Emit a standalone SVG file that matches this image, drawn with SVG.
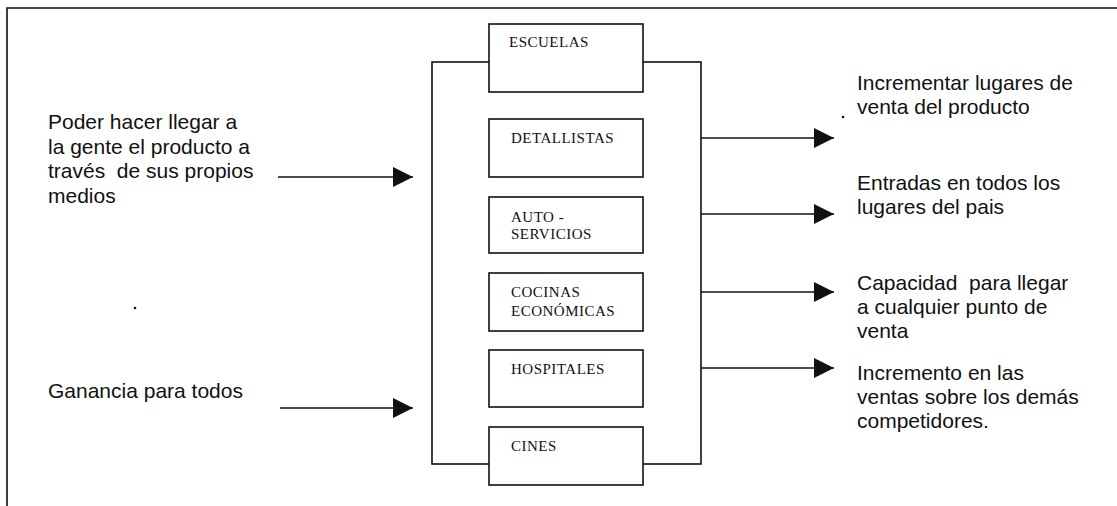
<svg xmlns="http://www.w3.org/2000/svg" width="1117" height="506" viewBox="0 0 1117 506">
<style>
.ln{stroke:#111;stroke-width:1.6;fill:none}
.bx{stroke:#111;stroke-width:1.6;fill:#fff}
.bt{font-family:"Liberation Serif","Times New Roman",serif;font-size:15px;letter-spacing:0.5px;fill:#111}
.tx{font-family:"Liberation Sans",Arial,sans-serif;font-size:21px;fill:#111;white-space:pre}
</style>
<defs>
<marker id="ah" markerUnits="userSpaceOnUse" markerWidth="22" markerHeight="22" refX="20" refY="10" orient="auto">
<path d="M0,0 L20,10 L0,20 Z" fill="#111"/>
</marker>
</defs>
<rect width="1117" height="506" fill="#fff"/>
<g id="frame">
<path class="ln" d="M7,506 L7,8 L1117,8"/>
</g>
<g id="connectors">
<rect class="ln" x="432" y="62" width="269" height="402"/>
<line class="ln" x1="278" y1="177" x2="413" y2="177" marker-end="url(#ah)"/>
<line class="ln" x1="280" y1="408" x2="413" y2="408" marker-end="url(#ah)"/>
<line class="ln" x1="701" y1="138" x2="834" y2="138" marker-end="url(#ah)"/>
<line class="ln" x1="701" y1="214" x2="834" y2="214" marker-end="url(#ah)"/>
<line class="ln" x1="701" y1="292" x2="834" y2="292" marker-end="url(#ah)"/>
<line class="ln" x1="701" y1="368" x2="834" y2="368" marker-end="url(#ah)"/>
</g>
<g id="escuelas">
<rect class="bx" x="489" y="24" width="154" height="68"/>
<text class="bt" x="509" y="47">ESCUELAS</text>
</g>
<g id="detallistas">
<rect class="bx" x="489" y="119" width="154" height="58"/>
<text class="bt" x="511" y="143">DETALLISTAS</text>
</g>
<g id="autoservicios">
<rect class="bx" x="489" y="197" width="154" height="56"/>
<text class="bt" x="511" y="222">AUTO -</text>
<text class="bt" x="511" y="239">SERVICIOS</text>
</g>
<g id="cocinas">
<rect class="bx" x="489" y="273" width="154" height="58"/>
<text class="bt" x="511" y="297">COCINAS</text>
<text class="bt" x="511" y="316">ECONÓMICAS</text>
</g>
<g id="hospitales">
<rect class="bx" x="489" y="350" width="154" height="57"/>
<text class="bt" x="511" y="374">HOSPITALES</text>
</g>
<g id="cines">
<rect class="bx" x="489" y="427" width="154" height="58"/>
<text class="bt" x="511" y="451">CINES</text>
</g>
<g id="left-1">
<text class="tx" x="48" y="129">Poder hacer llegar a</text>
<text class="tx" x="48" y="153.5">la gente el producto a</text>
<text class="tx" x="48" y="178">través  de sus propios</text>
<text class="tx" x="48" y="202.5">medios</text>
</g>
<g id="left-2">
<text class="tx" x="48" y="398">Ganancia para todos</text>
</g>
<g id="right-1">
<text class="tx" x="857" y="90">Incrementar lugares de</text>
<text class="tx" x="857" y="114">venta del producto</text>
</g>
<g id="right-2">
<text class="tx" x="857" y="190">Entradas en todos los</text>
<text class="tx" x="857" y="214">lugares del pais</text>
</g>
<g id="right-3">
<text class="tx" x="857" y="290">Capacidad  para llegar</text>
<text class="tx" x="857" y="314">a cualquier punto de</text>
<text class="tx" x="857" y="338">venta</text>
</g>
<g id="right-4">
<text class="tx" x="857" y="380">Incremento en las</text>
<text class="tx" x="857" y="404">ventas sobre los demás</text>
<text class="tx" x="857" y="428">competidores.</text>
</g>
<g id="marks">
<circle cx="843" cy="117" r="1.3" fill="#111"/>
<circle cx="135" cy="308" r="1.3" fill="#111"/>
</g>
</svg>
